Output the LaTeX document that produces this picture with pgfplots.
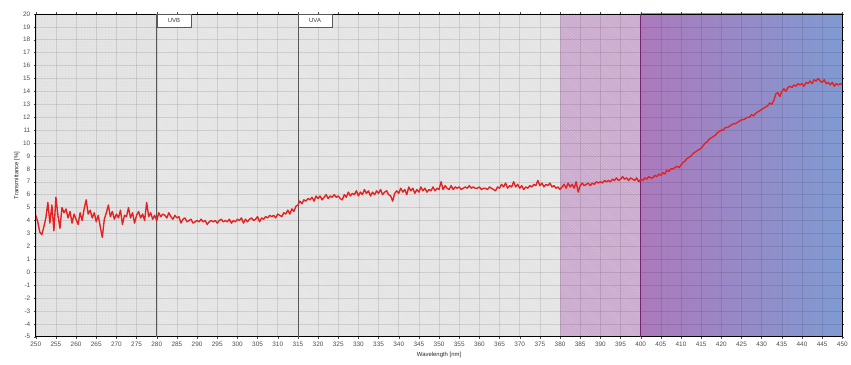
\documentclass[border=0pt]{standalone}
\usepackage{fontspec}
\setmainfont{Liberation Sans}
\usepackage{pgfplots}
\pgfplotsset{compat=1.18}
\usetikzlibrary{patterns}
\definecolor{bgA}{RGB}{230,230,230}
\definecolor{bgB}{RGB}{227,227,227}
\definecolor{violetA}{RGB}{202,170,206}
\definecolor{gradL}{RGB}{172,122,188}
\definecolor{gradR}{RGB}{128,154,210}
\definecolor{curve}{RGB}{228,34,34}
\begin{document}
\begin{tikzpicture}
\begin{axis}[
  set layers,
  scale only axis,
  width=812bp, height=325bp,
  xmin=250, xmax=450, ymin=-5, ymax=20,
  xtick={250,255,...,450}, ytick={-5,-4,...,20},
  grid=major,
  major grid style={black, opacity=0.1, line width=0.5pt},
  tick label style={font=\fontsize{6.5}{7}\selectfont, text=black!70},
  /pgf/number format/assume math mode=true,
  tick align=outside, major tick length=2bp,
  tick style={black!70, line width=0.4pt},
  axis line style={black, line width=0.8pt},
  xlabel={Wavelength [nm]}, ylabel={Transmittance [\%]},
  label style={font=\fontsize{6}{7}\selectfont, text=black!85},
  xlabel style={at={(axis description cs:0.5,-0.055)}, anchor=center},
  ylabel style={at={(axis description cs:-0.0234,0.5)}, anchor=center},
  clip=true,
]
% background regions
\addplot[draw=none, fill=bgA, on layer=axis background,
  postaction={pattern=crosshatch dots, pattern color=black!6!bgA}]
  coordinates {(250,-5) (280,-5) (280,20) (250,20)} -- cycle;
\addplot[draw=none, fill=bgB, on layer=axis background,
  postaction={pattern=north west lines, pattern color=white!40!bgB}]
  coordinates {(280,-5) (380,-5) (380,20) (280,20)} -- cycle;
\addplot[draw=none, fill=violetA, on layer=axis background,
  postaction={pattern=north west lines, pattern color=white!25!violetA}]
  coordinates {(380,-5) (400,-5) (400,20) (380,20)} -- cycle;
\addplot[draw=none, left color=gradL, right color=gradR, on layer=axis background]
  coordinates {(400,-5) (450,-5) (450,20) (400,20)} -- cycle;
% region lines
\addplot[black!65, line width=0.8pt] coordinates {(280,-5) (280,20)};
\addplot[black!65, line width=0.8pt] coordinates {(315,-5) (315,20)};
\addplot[black!20!violet!70!gray, line width=0.8pt] coordinates {(400,-5) (400,20)};
% transmittance curve
\addplot[curve, line width=1.4pt, line join=round] coordinates {
(250.0,4.4) (250.5,3.9) (251.0,3.1) (251.5,2.9) (252.0,3.5) (252.5,4.2) (253.0,5.4) (253.5,3.8) (254.0,5.2) (254.5,3.2)
(255.0,5.8) (255.5,4.4) (256.0,3.4) (256.5,5.0) (257.0,4.6) (257.5,4.9) (258.0,4.2) (258.5,4.7) (259.0,3.8) (259.5,4.5)
(260.0,4.1) (260.5,3.7) (261.0,4.6) (261.5,4.0) (262.0,4.9) (262.5,5.6) (263.0,4.5) (263.5,4.8) (264.0,4.2) (264.5,4.6)
(265.0,3.9) (265.5,4.4) (266.0,3.5) (266.5,2.7) (267.0,4.1) (267.5,4.6) (268.0,5.2) (268.5,4.3) (269.0,4.7) (269.5,4.1)
(270.0,4.5) (270.5,4.2) (271.0,4.8) (271.5,3.7) (272.0,4.4) (272.5,4.3) (273.0,5.0) (273.5,4.2) (274.0,4.6) (274.5,3.8)
(275.0,4.4) (275.5,4.7) (276.0,4.2) (276.5,4.5) (277.0,4.0) (277.5,5.4) (278.0,4.3) (278.5,4.6) (279.0,4.1) (279.5,4.4)
(280.0,4.0) (280.5,4.6) (281.0,4.3) (281.5,4.5) (282.0,4.4) (282.5,4.2) (283.0,4.6) (283.5,4.3) (284.0,4.1) (284.5,4.4)
(285.0,4.2) (285.5,4.3) (286.0,3.8) (286.5,4.1) (287.0,4.2) (287.5,3.9) (288.0,4.0) (288.5,4.1) (289.0,3.8) (289.5,3.9)
(290.0,4.0) (290.5,3.9) (291.0,4.1) (291.5,3.9) (292.0,4.0) (292.5,3.7) (293.0,3.9) (293.5,4.0) (294.0,3.9) (294.5,4.0)
(295.0,3.8) (295.5,4.0) (296.0,4.1) (296.5,3.9) (297.0,4.0) (297.5,3.9) (298.0,4.1) (298.5,3.8) (299.0,4.0) (299.5,3.9)
(300.0,4.1) (300.5,4.0) (301.0,4.2) (301.5,3.8) (302.0,4.1) (302.5,3.9) (303.0,4.1) (303.5,4.2) (304.0,4.0) (304.5,4.1)
(305.0,4.3) (305.5,3.9) (306.0,4.2) (306.5,4.1) (307.0,4.3) (307.5,4.2) (308.0,4.4) (308.5,4.3) (309.0,4.4) (309.5,4.2)
(310.0,4.5) (310.5,4.4) (311.0,4.3) (311.5,4.6) (312.0,4.5) (312.5,4.8) (313.0,4.5) (313.5,4.9) (314.0,4.7) (314.5,5.1)
(315.0,5.2) (315.5,5.5) (316.0,5.3) (316.5,5.6) (317.0,5.5) (317.5,5.7) (318.0,5.6) (318.5,5.8) (319.0,5.5) (319.5,5.9)
(320.0,5.7) (320.5,5.9) (321.0,5.6) (321.5,5.8) (322.0,6.0) (322.5,5.7) (323.0,5.9) (323.5,5.8) (324.0,6.0) (324.5,5.8)
(325.0,5.9) (325.5,5.7) (326.0,5.6) (326.5,6.0) (327.0,5.8) (327.5,6.2) (328.0,5.9) (328.5,6.1) (329.0,6.0) (329.5,6.3)
(330.0,5.9) (330.5,6.2) (331.0,6.0) (331.5,6.4) (332.0,6.1) (332.5,6.3) (333.0,5.9) (333.5,6.2) (334.0,6.0) (334.5,6.3)
(335.0,6.1) (335.5,6.4) (336.0,6.0) (336.5,6.2) (337.0,6.3) (337.5,6.0) (338.0,5.9) (338.5,5.5) (339.0,6.1) (339.5,6.3)
(340.0,6.1) (340.5,6.5) (341.0,6.2) (341.5,6.4) (342.0,6.0) (342.5,6.6) (343.0,6.3) (343.5,6.5) (344.0,6.1) (344.5,6.4)
(345.0,6.2) (345.5,6.6) (346.0,6.3) (346.5,6.5) (347.0,6.2) (347.5,6.4) (348.0,6.3) (348.5,6.6) (349.0,6.3) (349.5,6.5)
(350.0,6.4) (350.5,7.0) (351.0,6.4) (351.5,6.7) (352.0,6.5) (352.5,6.4) (353.0,6.7) (353.5,6.4) (354.0,6.6) (354.5,6.5)
(355.0,6.6) (355.5,6.4) (356.0,6.5) (356.5,6.6) (357.0,6.5) (357.5,6.7) (358.0,6.5) (358.5,6.6) (359.0,6.5) (359.5,6.5)
(360.0,6.6) (360.5,6.4) (361.0,6.5) (361.5,6.5) (362.0,6.4) (362.5,6.6) (363.0,6.5) (363.5,6.4) (364.0,6.3) (364.5,6.6)
(365.0,6.5) (365.5,6.8) (366.0,6.6) (366.5,6.9) (367.0,6.5) (367.5,6.7) (368.0,6.6) (368.5,7.0) (369.0,6.6) (369.5,6.8)
(370.0,6.5) (370.5,6.7) (371.0,6.4) (371.5,6.6) (372.0,6.5) (372.5,6.7) (373.0,6.6) (373.5,6.8) (374.0,6.7) (374.5,7.1)
(375.0,6.7) (375.5,6.9) (376.0,6.6) (376.5,6.8) (377.0,6.7) (377.5,6.9) (378.0,6.6) (378.5,6.7) (379.0,6.5) (379.5,6.6)
(380.0,6.4) (380.5,6.6) (381.0,6.8) (381.5,6.5) (382.0,6.9) (382.5,6.6) (383.0,6.8) (383.5,6.5) (384.0,7.0) (384.5,6.2)
(385.0,6.7) (385.5,6.9) (386.0,6.7) (386.5,6.8) (387.0,6.9) (387.5,6.7) (388.0,6.9) (388.5,6.8) (389.0,7.0) (389.5,6.9)
(390.0,7.0) (390.5,6.9) (391.0,7.1) (391.5,7.0) (392.0,7.1) (392.5,7.0) (393.0,7.2) (393.5,7.1) (394.0,7.3) (394.5,7.1)
(395.0,7.2) (395.5,7.4) (396.0,7.2) (396.5,7.3) (397.0,7.1) (397.5,7.3) (398.0,7.2) (398.5,7.1) (399.0,7.3) (399.5,7.0)
(400.0,7.2) (400.5,7.1) (401.0,7.3) (401.5,7.2) (402.0,7.4) (402.5,7.3) (403.0,7.3) (403.5,7.5) (404.0,7.4) (404.5,7.6)
(405.0,7.5) (405.5,7.7) (406.0,7.6) (406.5,7.9) (407.0,7.8) (407.5,8.0) (408.0,8.0) (408.5,8.1) (409.0,8.2) (409.5,8.1)
(410.0,8.3) (410.5,8.5) (411.0,8.6) (411.5,8.8) (412.0,8.9) (412.5,9.0) (413.0,9.2) (413.5,9.3) (414.0,9.4) (414.5,9.5)
(415.0,9.6) (415.5,9.8) (416.0,10.0) (416.5,10.1) (417.0,10.3) (417.5,10.4) (418.0,10.5) (418.5,10.6) (419.0,10.8) (419.5,10.9)
(420.0,11.0) (420.5,11.0) (421.0,11.2) (421.5,11.2) (422.0,11.3) (422.5,11.4) (423.0,11.5) (423.5,11.5) (424.0,11.6) (424.5,11.7)
(425.0,11.8) (425.5,11.8) (426.0,11.9) (426.5,12.0) (427.0,12.0) (427.5,12.2) (428.0,12.1) (428.5,12.3) (429.0,12.4) (429.5,12.5)
(430.0,12.6) (430.5,12.7) (431.0,12.8) (431.5,12.9) (432.0,13.1) (432.5,13.0) (433.0,13.3) (433.5,13.8) (434.0,13.9) (434.5,13.6)
(435.0,14.0) (435.5,14.2) (436.0,14.0) (436.5,14.3) (437.0,14.4) (437.5,14.3) (438.0,14.5) (438.5,14.4) (439.0,14.6) (439.5,14.5)
(440.0,14.6) (440.5,14.4) (441.0,14.7) (441.5,14.6) (442.0,14.8) (442.5,14.6) (443.0,14.9) (443.5,14.8) (444.0,15.0) (444.5,14.8)
(445.0,14.7) (445.5,14.9) (446.0,14.6) (446.5,14.7) (447.0,14.5) (447.5,14.7) (448.0,14.4) (448.5,14.6) (449.0,14.5) (449.5,14.6)
(450.0,14.5)
};
% region labels
\node[draw=black!65, fill=white, line width=0.6pt, anchor=north west, minimum width=34bp, minimum height=13bp,
  inner sep=1pt, font=\fontsize{6}{7}\selectfont, text=black!80] at (axis cs:280,20) {UVB};
\node[draw=black!65, fill=white, line width=0.6pt, anchor=north west, minimum width=34bp, minimum height=13bp,
  inner sep=1pt, font=\fontsize{6}{7}\selectfont, text=black!80] at (axis cs:315,20) {UVA};
\end{axis}
\path (-36bp,-28bp) rectangle (815bp,339bp);
\end{tikzpicture}
\end{document}
